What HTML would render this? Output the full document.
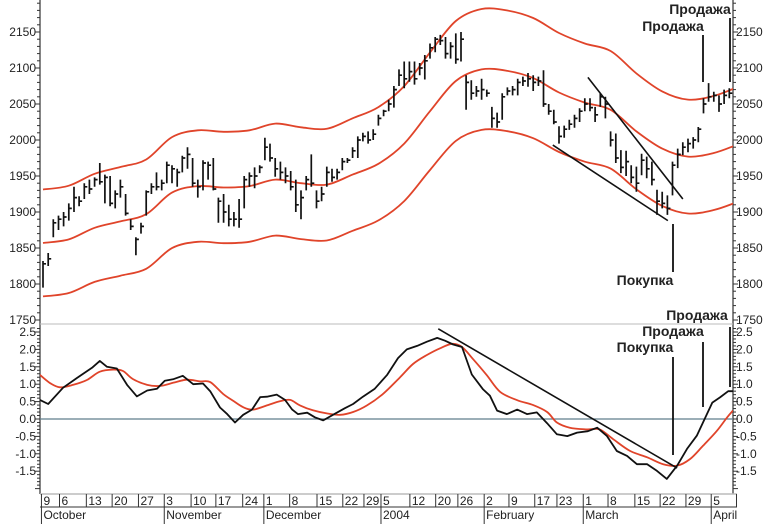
<!DOCTYPE html>
<html><head><meta charset="utf-8">
<style>
html,body{margin:0;padding:0;background:#fff;}
svg{display:block;font-family:"Liberation Sans",sans-serif;}
.tk{font-size:12px;fill:#222;}
.ann{font-size:14px;font-weight:bold;fill:#222;font-family:"Liberation Sans","Noto Sans CJK SC",sans-serif;}
</style></head>
<body>
<svg id="chart" width="772" height="524" viewBox="0 0 772 524"></svg>
<script>
// ---- data ----
const barHigh=[1832,1843,1890,1895,1900,1912,1935,1922,1940,1945,1948,1968,1952,1950,1930,1945,1925,1890,1865,1885,1930,1940,1955,1945,1970,1965,1960,1978,1990,1975,1945,1972,1970,1975,1920,1925,1910,1900,1918,1950,1955,1962,1965,2003,1995,1975,1970,1962,1957,1945,1930,1950,1980,1930,1935,1963,1960,1960,1975,1975,1990,2005,2010,2012,2015,2035,2042,2056,2075,2098,2109,2109,2109,2107,2118,2134,2143,2146,2143,2136,2148,2150,2090,2083,2075,2085,2070,2046,2038,2065,2073,2075,2085,2088,2093,2090,2088,2097,2050,2042,2019,2020,2028,2035,2044,2058,2058,2046,2065,2060,2012,2009,1986,1985,1965,1963,1981,1977,1970,1931,1928,1923,1970,1988,1997,2002,2004,2018,2058,2079,2067,2062,2070,2072];
const barLow=[1795,1825,1865,1875,1880,1888,1900,1908,1918,1925,1935,1938,1912,1908,1905,1920,1895,1875,1840,1870,1895,1925,1930,1930,1940,1940,1935,1955,1960,1935,1920,1930,1945,1930,1885,1885,1880,1880,1878,1905,1935,1933,1954,1972,1970,1949,1945,1940,1930,1900,1890,1930,1935,1905,1915,1935,1942,1945,1958,1968,1975,1975,1998,1995,2000,2020,2033,2040,2045,2075,2072,2081,2077,2090,2084,2113,2122,2132,2113,2113,2106,2109,2042,2056,2060,2056,2060,2017,2017,2028,2062,2062,2062,2075,2074,2068,2075,2046,2035,2022,1995,2003,2014,2017,2025,2040,2040,2025,2046,2030,1991,1968,1954,1950,1940,1928,1951,1947,1937,1896,1905,1896,1923,1961,1979,1983,1988,1997,2037,2053,2053,2039,2050,2058];
const barClose=[1828,1835,1885,1890,1893,1905,1920,1915,1935,1932,1945,1942,1948,1912,1925,1935,1898,1880,1862,1880,1928,1935,1935,1940,1965,1960,1955,1975,1980,1940,1935,1968,1965,1932,1915,1900,1890,1890,1890,1945,1950,1950,1962,1990,1975,1960,1955,1950,1935,1910,1920,1945,1940,1915,1925,1955,1948,1955,1970,1972,1985,2000,2005,2000,2008,2030,2040,2050,2070,2090,2085,2095,2085,2100,2110,2128,2140,2138,2120,2130,2112,2140,2080,2065,2068,2070,2065,2030,2025,2060,2068,2070,2080,2082,2085,2080,2082,2050,2040,2025,2005,2015,2022,2030,2040,2050,2045,2035,2060,2050,2000,1975,1962,1970,1948,1940,1972,1960,1945,1915,1912,1905,1965,1980,1990,1995,2000,2015,2050,2060,2062,2050,2062,2065];
const bandIdx=[0,5,10,15,20,25,30,35,40,45,50,55,60,65,70,75,80,85,90,95,100,105,110,115,120,125,130,134];
const bandMid=[1857,1862,1878,1887,1897,1927,1936,1934,1936,1945,1940,1938,1952,1967,1995,2040,2082,2098,2096,2086,2066,2052,2042,2012,1988,1977,1982,1992];
const oscIdx=[-0.6,1.0,3.9,6.6,9.5,11.0,12.4,14.3,16.3,18.2,20.2,22.1,23.6,25.2,27.1,29.1,31.0,32.4,34.3,35.7,37.2,38.8,40.5,42.1,43.4,45.3,46.9,48.3,49.4,51.2,52.7,54.3,56.2,58.5,60.1,62.0,64.3,66.7,68.8,70.5,72.5,74.4,76.4,77.9,79.5,81.2,83.1,85.3,86.6,88.0,89.9,91.9,93.8,95.7,97.7,99.6,101.6,103.5,105.6,107.4,109.3,111.2,113.2,115.1,117.1,119.0,120.9,122.9,124.8,126.7,127.9,129.7,131.2,132.8,133.7];
const oscVal=[0.55,0.43,0.9,1.18,1.47,1.67,1.5,1.45,0.98,0.65,0.82,0.87,1.1,1.14,1.24,1.0,1.02,0.8,0.33,0.14,-0.1,0.12,0.27,0.63,0.64,0.7,0.55,0.27,0.14,0.18,0.05,-0.04,0.12,0.31,0.43,0.64,0.87,1.27,1.75,2.0,2.1,2.22,2.33,2.25,2.14,2.07,1.28,0.85,0.67,0.24,0.14,0.27,0.14,0.19,-0.12,-0.44,-0.49,-0.39,-0.35,-0.25,-0.49,-0.92,-1.06,-1.3,-1.3,-1.49,-1.72,-1.34,-0.86,-0.48,-0.1,0.47,0.62,0.8,0.8];
const sigIdx=[-0.6,1.4,3.3,5.8,8.5,11.0,13.6,15.5,17.4,20.2,22.7,25.2,27.9,30.4,32.4,34.9,36.8,38.8,40.7,43.4,45.9,47.9,49.8,52.3,55.0,57.6,60.1,62.8,65.9,69.2,71.7,74.4,76.9,79.3,81.2,83.3,86.0,88.6,91.9,95.0,97.7,99.6,102.1,105.4,107.9,110.5,113.8,117.1,120.2,122.9,125.4,127.9,130.6,132.6,133.7];
const sigVal=[1.27,1.03,0.91,0.98,1.12,1.36,1.42,1.38,1.15,0.98,0.95,1.04,1.13,1.08,1.06,0.72,0.53,0.34,0.27,0.39,0.51,0.55,0.39,0.25,0.16,0.12,0.2,0.39,0.72,1.2,1.58,1.84,2.03,2.16,2.07,1.73,1.26,0.78,0.54,0.4,0.2,-0.1,-0.25,-0.3,-0.3,-0.58,-0.92,-1.1,-1.3,-1.34,-1.15,-0.77,-0.34,0.05,0.24];
const priceTicks=[1750,1800,1850,1900,1950,2000,2050,2100,2150,2200];
const oscTicks=[-1.5,-1.0,-0.5,0.0,0.5,1.0,1.5,2.0,2.5];
const dateLabels=["9","6","13","20","27","3","10","17","24","1","8","15","22","29","5","12","20","26","2","9","17","23","1","8","15","22","29","5",""];
const dateIdx=[-0.3,3.2,8.4,13.4,18.5,23.5,28.7,33.5,38.7,42.8,47.8,53.1,58.1,62.2,65.5,71.1,76.1,80.4,85.5,90.3,95.3,99.6,104.7,109.5,114.7,119.6,124.6,129.5,134.4];
const monthLabels=["October","November","December","2004","February","March","April"];
const monthIdx=[-0.3,23.5,42.8,65.5,85.5,104.7,129.5];
// trendlines in data coords [idx0,val0,idx1,val1]
const priceTrendUpper=[105.6,2087,124.0,1918];
const priceTrendLower=[98.8,1993,121.1,1888];
const oscTrend=[76.6,2.59,122.9,-1.41];

// ---- scales ----
const X0=40,X1=733;
const xI=i=>43+i*5.16;
const yP=v=>140-(v-2000)*0.72;
const yO=v=>419-v*34.8;
const svg=document.getElementById('chart');
const NS='http://www.w3.org/2000/svg';
function mk(tag,attrs,parent){const e=document.createElementNS(NS,tag);for(const k in attrs)e.setAttribute(k,attrs[k]);(parent||svg).appendChild(e);return e;}
function smooth(pts){let d='M'+pts[0][0].toFixed(1)+','+pts[0][1].toFixed(1);
 for(let i=0;i<pts.length-1;i++){const p0=pts[Math.max(0,i-1)],p1=pts[i],p2=pts[i+1],p3=pts[Math.min(pts.length-1,i+2)];
  const c1=[p1[0]+(p2[0]-p0[0])/6,p1[1]+(p2[1]-p0[1])/6],c2=[p2[0]-(p3[0]-p1[0])/6,p2[1]-(p3[1]-p1[1])/6];
  d+=' C'+c1[0].toFixed(1)+','+c1[1].toFixed(1)+' '+c2[0].toFixed(1)+','+c2[1].toFixed(1)+' '+p2[0].toFixed(1)+','+p2[1].toFixed(1);}
 return d;}

const clipP=mk('clipPath',{id:'cp'});mk('rect',{x:X0,y:0,width:X1-X0,height:324},clipP);
const clipO=mk('clipPath',{id:'co'});mk('rect',{x:X0,y:325,width:X1-X0,height:168},clipO);

// axes frame
let e;
e=mk('line',{x1:X0,y1:0,x2:X0,y2:494,stroke:'#333','stroke-width':1.2});


e=mk('line',{x1:X1,y1:0,x2:X1,y2:494,stroke:'#333','stroke-width':1.2});


e=mk('line',{x1:X0,y1:324,x2:X1,y2:324,stroke:'#bbb','stroke-width':1});


e=mk('line',{x1:X0,y1:yO(0),x2:X1,y2:yO(0),stroke:'#5f7d8c','stroke-width':1.2});



// minor ticks
for(let v=1740;v<=2200;v+=10){const y=yP(v);if(y<0||y>323)continue;const mj=v%50===0;
 mk('line',{x1:X0-(mj?5:3),y1:y,x2:X0,y2:y,stroke:'#333','stroke-width':1});
 mk('line',{x1:X1,y1:y,x2:X1+(mj?5:3),y2:y,stroke:'#333','stroke-width':1});}
for(let k=-20;k<=27;k++){const v=k/10;const y=yO(v);if(y<326||y>492)continue;const mj=k%5===0;
 mk('line',{x1:X0-(mj?5:3),y1:y,x2:X0,y2:y,stroke:'#333','stroke-width':1});
 mk('line',{x1:X1,y1:y,x2:X1+(mj?5:3),y2:y,stroke:'#333','stroke-width':1});}
priceTicks.forEach(v=>{const y=yP(v)+4;
 e=mk('text',{x:36,y:y,'text-anchor':'end',class:'tk'});e.textContent=v;
 
 
 e=mk('text',{x:736,y:y,class:'tk'});e.textContent=v;
 
 });
oscTicks.forEach(v=>{const y=yO(v)+4;const t=v.toFixed(1);
 e=mk('text',{x:36,y:y,'text-anchor':'end',class:'tk'});e.textContent=t;
 
 
 e=mk('text',{x:736,y:y,class:'tk'});e.textContent=t;
 
 });

// x axis
mk('line',{x1:X0,y1:494,x2:X1+4,y2:494,stroke:'#bbb','stroke-width':1.5});
mk('line',{x1:X0,y1:507,x2:X1+4,y2:507,stroke:'#333','stroke-width':1});
dateLabels.forEach((t,i)=>{const x=xI(dateIdx[i]);
 mk('line',{x1:x,y1:494,x2:x,y2:507,stroke:'#333','stroke-width':1});
 e=mk('text',{x:x+2,y:505,class:'tk'});e.textContent=t;
 
 });
monthLabels.forEach((t,i)=>{const x=xI(monthIdx[i]);
 mk('line',{x1:x,y1:507,x2:x,y2:524,stroke:'#333','stroke-width':1});
 e=mk('text',{x:x+2,y:519,class:'tk','font-size':'11'});e.textContent=t;
 
 });

// envelope bands
const gP=mk('g',{'clip-path':'url(#cp)'});
[1.04,1,0.96].forEach((f,k)=>{const pts=bandIdx.map((b,i)=>[xI(b),yP(bandMid[i]*f)]);
 e=mk('path',{d:smooth(pts),fill:'none',stroke:'#e0442a','stroke-width':1.8},gP);
 
 });

// price bars
barClose.forEach((c,i)=>{const x=xI(i);
 e=mk('path',{d:`M${x.toFixed(1)},${yP(barHigh[i]).toFixed(1)}V${yP(barLow[i]).toFixed(1)}M${x.toFixed(1)},${yP(c).toFixed(1)}h3`,stroke:'#111','stroke-width':1.7,fill:'none'},gP);
 
 });

function tline(a,ys,name,g){e=mk('line',{x1:xI(a[0]),y1:ys(a[1]),x2:xI(a[2]),y2:ys(a[3]),stroke:'#111','stroke-width':1.6},g);
 
 }
tline(priceTrendUpper,yP,'price-trendline-upper',gP);
tline(priceTrendLower,yP,'price-trendline-lower',gP);

// oscillator
const gO=mk('g',{'clip-path':'url(#co)'});
e=mk('path',{d:smooth(sigIdx.map((b,i)=>[xI(b),yO(sigVal[i])])),fill:'none',stroke:'#e0442a','stroke-width':1.8},gO);


e=mk('path',{d:'M'+oscIdx.map((b,i)=>xI(b).toFixed(1)+','+yO(oscVal[i]).toFixed(1)).join('L'),fill:'none',stroke:'#111','stroke-width':1.8,'stroke-linejoin':'round'},gO);


tline(oscTrend,yO,'oscillator-trendline',gO);

// annotations
function vline(x,y1,y2,name){e=mk('line',{x1:x,y1:y1,x2:x,y2:y2,stroke:'#111','stroke-width':1.8});
 
 }
function label(x,y,t,name){e=mk('text',{x:x,y:y,'text-anchor':'middle',class:'ann'});e.textContent=t;
 
 }
vline(673,224,272,'buy-marker-top');
label(645,285,'Покупка','buy-label-top');
vline(703,35,82,'sell-marker-1-top');
label(673,31,'Продажа','sell-label-1-top');
vline(730,18,82,'sell-marker-2-top');
label(700,14,'Продажа','sell-label-2-top');
vline(673,357,455,'buy-marker-osc');
label(645,352,'Покупка','buy-label-osc');
vline(703,342,407,'sell-marker-1-osc');
label(673,336,'Продажа','sell-label-1-osc');
vline(730,327,387,'sell-marker-2-osc');
label(697,320,'Продажа','sell-label-2-osc');
</script>
</body></html>
